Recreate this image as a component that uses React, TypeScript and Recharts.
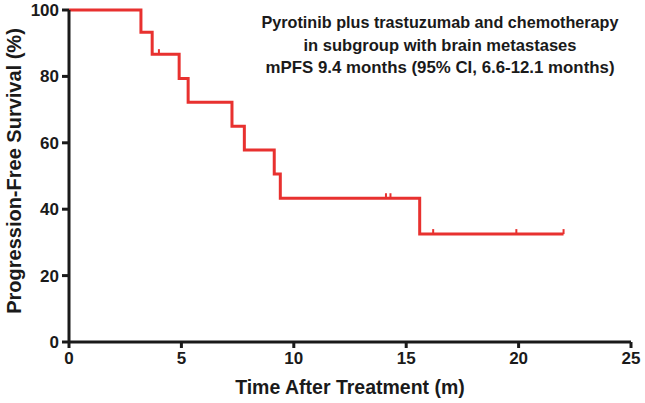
import React from "react";
import { ComposedChart, Line, Scatter, XAxis, YAxis } from "recharts";

// Kaplan-Meier step points (time in months, PFS in %)
const stepTimes = [0, 3.2, 3.7, 4.9, 5.3, 7.25, 7.8, 9.13, 9.4, 15.6, 22.0];
const stepSurvival = [100, 93.3, 86.7, 79.4, 72.2, 65.0, 57.8, 50.6, 43.3, 32.5, 32.5];

// Censored observations
const censorTimes = [4.0, 14.1, 14.3, 16.2, 19.9, 22.0];
const censorSurvival = [86.7, 43.3, 43.3, 32.5, 32.5, 32.5];

const xTicks = [0, 5, 10, 15, 20, 25];
const yTicks = [0, 20, 40, 60, 80, 100];

const titleLines = [
  "Pyrotinib plus trastuzumab and chemotherapy",
  "in subgroup with brain metastases",
  "mPFS 9.4 months (95% CI, 6.6-12.1 months)",
];
const titleWidths = [357, 273, 349];
const xLabel = "Time After Treatment (m)";
const yLabel = "Progression-Free Survival (%)";

const RED = "#e8312f";
const INK = "#1a1a1a";
const FONT = "'Liberation Sans', Arial, sans-serif";

const stepData = stepTimes.map((t, i) => ({ t, s: stepSurvival[i] }));
const censorData = censorTimes.map((t, i) => ({ t, s: censorSurvival[i] }));

const CensorMark = (props: any) => {
  const { cx, cy } = props;
  if (cx == null || cy == null) return null;
  return <line x1={cx} x2={cx} y1={cy} y2={cy - 5} stroke={RED} strokeWidth={2} />;
};

export default function App() {
  const tickStyle = { fontSize: 17, fontWeight: "bold", fill: INK, fontFamily: FONT };
  return (
    <div style={{ position: "absolute", left: 0, top: 0, width: 645, height: 403, background: "#fff" }}>
      <ComposedChart width={645} height={403} margin={{ top: 10, right: 14, bottom: 0, left: 0 }}>
        <XAxis
          type="number"
          dataKey="t"
          domain={[0, 25]}
          ticks={xTicks}
          allowDataOverflow
          height={61}
          tick={tickStyle}
          tickSize={6}
          tickMargin={4}
          axisLine={{ stroke: INK, strokeWidth: 3 }}
          tickLine={{ stroke: INK, strokeWidth: 3 }}
        />
        <YAxis
          type="number"
          dataKey="s"
          domain={[0, 100]}
          ticks={yTicks}
          width={69}
          tick={tickStyle}
          tickSize={7}
          tickMargin={3}
          axisLine={{ stroke: INK, strokeWidth: 3 }}
          tickLine={{ stroke: INK, strokeWidth: 3 }}
        />
        <Line
          data={stepData}
          dataKey="s"
          type="stepAfter"
          stroke={RED}
          strokeWidth={3}
          dot={false}
          activeDot={false}
          isAnimationActive={false}
        />
        <Scatter data={censorData} dataKey="s" shape={CensorMark} isAnimationActive={false} />
      </ComposedChart>
      <svg
        width={645}
        height={403}
        style={{ position: "absolute", left: 0, top: 0, pointerEvents: "none" }}
      >
        {titleLines.map((line, i) => (
          <text
            key={i}
            x={440}
            y={28 + i * 22.5}
            textAnchor="middle"
            fontFamily={FONT}
            fontWeight="bold"
            fontSize={16.6}
            textLength={titleWidths[i]}
            lengthAdjust="spacingAndGlyphs"
            fill={INK}
          >
            {line}
          </text>
        ))}
        <text
          x={350}
          y={394}
          textAnchor="middle"
          fontFamily={FONT}
          fontWeight="bold"
          fontSize={19.5}
          fill={INK}
        >
          {xLabel}
        </text>
        <text
          transform="translate(21,171) rotate(-90)"
          textAnchor="middle"
          fontFamily={FONT}
          fontWeight="bold"
          fontSize={20}
          fill={INK}
        >
          {yLabel}
        </text>
      </svg>
    </div>
  );
}
